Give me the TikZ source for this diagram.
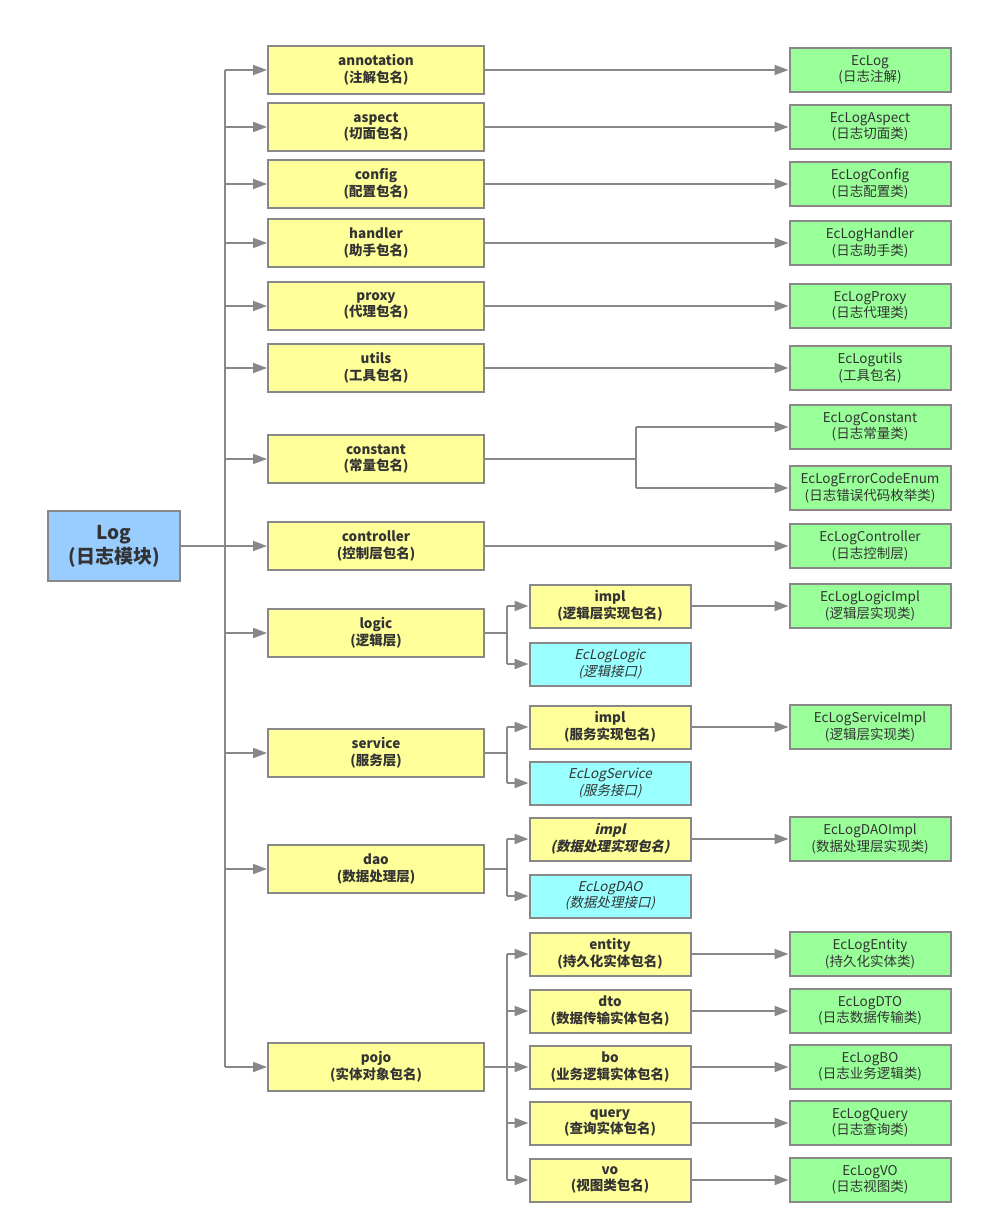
\documentclass[tikz,border=0pt]{standalone}
\usepackage{fontspec}
\setmainfont{Noto Sans CJK SC}[AutoFakeSlant=0.22]
\usetikzlibrary{arrows.meta}
\definecolor{edge}{HTML}{888888}
\definecolor{pkg}{HTML}{FFFF99}
\definecolor{cls}{HTML}{99FF99}
\definecolor{ifc}{HTML}{99FFFF}
\definecolor{root}{HTML}{99CCFF}
\definecolor{ink}{HTML}{333333}
\tikzset{
  box/.style={draw=edge, line width=2pt, inner sep=0pt, align=center, text=ink,
    font=\fontsize{13.5}{16.5}\selectfont},
  pkgbox/.style={box, fill=pkg, minimum width=216pt, minimum height=48pt,
    font=\fontsize{13.5}{16.5}\selectfont\bfseries},
  subbox/.style={box, fill=pkg, minimum width=161pt, minimum height=43pt,
    font=\fontsize{13.5}{16.5}\selectfont\bfseries},
  ifcbox/.style={box, fill=ifc, minimum width=161pt, minimum height=43pt,
    font=\fontsize{13.5}{16.5}\selectfont\itshape},
  clsbox/.style={box, fill=cls, minimum width=161pt, minimum height=44pt},
  rootbox/.style={box, fill=root, minimum width=132pt, minimum height=70pt,
    font=\fontsize{19}{24}\selectfont\bfseries},
  wire/.style={draw=edge, line width=2pt},
  arr/.style={wire, -{Triangle[length=14pt,width=10pt]}},
}
\begin{document}
\begin{tikzpicture}[x=1pt, y=-1pt]
\useasboundingbox (0,0) rectangle (983,1231);

% root
\node[rootbox] (log) at (114,546) {Log\\(日志模块)};

% first level packages
\node[pkgbox] (annotation) at (376,70)   {annotation\\(注解包名)};
\node[pkgbox] (aspect)     at (376,127)  {aspect\\(切面包名)};
\node[pkgbox] (config)     at (376,184)  {config\\(配置包名)};
\node[pkgbox] (handler)    at (376,243)  {handler\\(助手包名)};
\node[pkgbox] (proxy)      at (376,306)  {proxy\\(代理包名)};
\node[pkgbox] (utils)      at (376,368)  {utils\\(工具包名)};
\node[pkgbox] (constant)   at (376,459)  {constant\\(常量包名)};
\node[pkgbox] (controller) at (376,546)  {controller\\(控制层包名)};
\node[pkgbox] (logic)      at (376,633)  {logic\\(逻辑层)};
\node[pkgbox] (service)    at (376,753)  {service\\(服务层)};
\node[pkgbox] (dao)        at (376,869)  {dao\\(数据处理层)};
\node[pkgbox] (pojo)       at (376,1067) {pojo\\(实体对象包名)};

% second level packages and interfaces
\node[subbox] (logicimpl)   at (610,606)  {impl\\(逻辑层实现包名)};
\node[ifcbox] (logicifc)    at (610,664)  {EcLogLogic\\(逻辑接口)};
\node[subbox] (serviceimpl) at (610,727)  {impl\\(服务实现包名)};
\node[ifcbox] (serviceifc)  at (610,783)  {EcLogService\\(服务接口)};
\node[subbox, font=\fontsize{13.5}{16.5}\selectfont\bfseries\addfontfeature{FakeSlant=0.22}]
              (daoimpl)     at (610,839)  {impl\\(数据处理实现包名)};
\node[ifcbox] (daoifc)      at (610,896)  {EcLogDAO\\(数据处理接口)};
\node[subbox] (entity)      at (610,954)  {entity\\(持久化实体包名)};
\node[subbox] (dto)         at (610,1011) {dto\\(数据传输实体包名)};
\node[subbox] (bo)          at (610,1067) {bo\\(业务逻辑实体包名)};
\node[subbox] (query)       at (610,1123) {query\\(查询实体包名)};
\node[subbox] (vo)          at (610,1180) {vo\\(视图类包名)};

% classes
\node[clsbox] (c1)  at (870,70)   {EcLog\\(日志注解)};
\node[clsbox] (c2)  at (870,127)  {EcLogAspect\\(日志切面类)};
\node[clsbox] (c3)  at (870,184)  {EcLogConfig\\(日志配置类)};
\node[clsbox] (c4)  at (870,243)  {EcLogHandler\\(日志助手类)};
\node[clsbox] (c5)  at (870,306)  {EcLogProxy\\(日志代理类)};
\node[clsbox] (c6)  at (870,368)  {EcLogutils\\(工具包名)};
\node[clsbox] (c7)  at (870,427)  {EcLogConstant\\(日志常量类)};
\node[clsbox] (c8)  at (870,488)  {EcLogErrorCodeEnum\\(日志错误代码枚举类)};
\node[clsbox] (c9)  at (870,546)  {EcLogController\\(日志控制层)};
\node[clsbox] (c10) at (870,606)  {EcLogLogicImpl\\(逻辑层实现类)};
\node[clsbox] (c11) at (870,727)  {EcLogServiceImpl\\(逻辑层实现类)};
\node[clsbox] (c12) at (870,839)  {EcLogDAOImpl\\(数据处理层实现类)};
\node[clsbox] (c13) at (870,954)  {EcLogEntity\\(持久化实体类)};
\node[clsbox] (c14) at (870,1011) {EcLogDTO\\(日志数据传输类)};
\node[clsbox] (c15) at (870,1067) {EcLogBO\\(日志业务逻辑类)};
\node[clsbox] (c16) at (870,1123) {EcLogQuery\\(日志查询类)};
\node[clsbox] (c17) at (870,1180) {EcLogVO\\(日志视图类)};

% trunk from the root
\coordinate (trunk) at (225,546);
\draw[wire] (annotation.west -| trunk) -- (pojo.west -| trunk);
\draw[arr] (log.east) -- (controller.west);
\foreach \n in {annotation,aspect,config,handler,proxy,utils,constant,logic,service,dao,pojo}
  \draw[arr] (\n.west -| trunk) -- (\n.west);

% first level to classes
\draw[arr] (annotation.east) -- (c1.west);
\draw[arr] (aspect.east) -- (c2.west);
\draw[arr] (config.east) -- (c3.west);
\draw[arr] (handler.east) -- (c4.west);
\draw[arr] (proxy.east) -- (c5.west);
\draw[arr] (utils.east) -- (c6.west);
\draw[arr] (controller.east) -- (c9.west);

% constant splits into two classes
\coordinate (cfork) at (636,459);
\draw[wire] (constant.east) -- (cfork);
\draw[wire] (c7.west -| cfork) -- (c8.west -| cfork);
\draw[arr] (c7.west -| cfork) -- (c7.west);
\draw[arr] (c8.west -| cfork) -- (c8.west);

% logic / service / dao / pojo forks
\coordinate (fork) at (507,0);
\draw[wire] (logic.east) -- (logic.east -| fork);
\draw[wire] (logicimpl.west -| fork) -- (logicifc.west -| fork);
\draw[arr] (logicimpl.west -| fork) -- (logicimpl.west);
\draw[arr] (logicifc.west -| fork) -- (logicifc.west);

\draw[wire] (service.east) -- (service.east -| fork);
\draw[wire] (serviceimpl.west -| fork) -- (serviceifc.west -| fork);
\draw[arr] (serviceimpl.west -| fork) -- (serviceimpl.west);
\draw[arr] (serviceifc.west -| fork) -- (serviceifc.west);

\draw[wire] (dao.east) -- (dao.east -| fork);
\draw[wire] (daoimpl.west -| fork) -- (daoifc.west -| fork);
\draw[arr] (daoimpl.west -| fork) -- (daoimpl.west);
\draw[arr] (daoifc.west -| fork) -- (daoifc.west);

\draw[wire] (pojo.east) -- (pojo.east -| fork);
\draw[wire] (entity.west -| fork) -- (vo.west -| fork);
\foreach \n in {entity,dto,bo,query,vo}
  \draw[arr] (\n.west -| fork) -- (\n.west);

% second level to classes
\draw[arr] (logicimpl.east) -- (c10.west);
\draw[arr] (serviceimpl.east) -- (c11.west);
\draw[arr] (daoimpl.east) -- (c12.west);
\draw[arr] (entity.east) -- (c13.west);
\draw[arr] (dto.east) -- (c14.west);
\draw[arr] (bo.east) -- (c15.west);
\draw[arr] (query.east) -- (c16.west);
\draw[arr] (vo.east) -- (c17.west);
\end{tikzpicture}
\end{document}
